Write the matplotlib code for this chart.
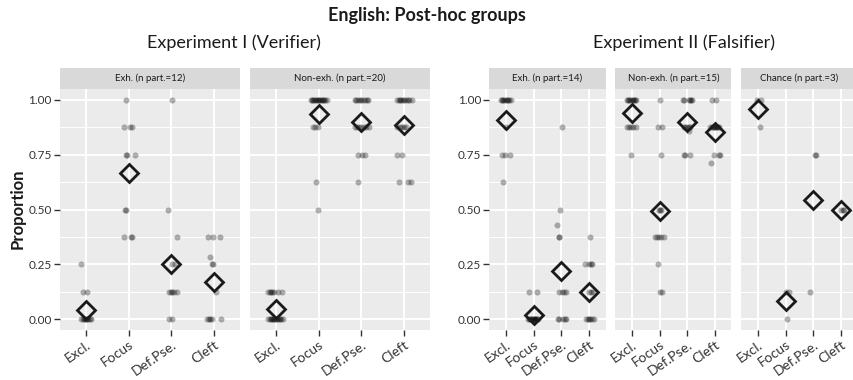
import matplotlib.pyplot as plt
import numpy as np

plt.rcParams['font.family'] = ['Lato', 'DejaVu Sans']

categories = ['Excl.', 'Focus', 'Def.Pse.', 'Cleft']
y_ticks = [0.0, 0.25, 0.5, 0.75, 1.0]
y_tick_labels = ['0.00', '0.25', '0.50', '0.75', '1.00']

# Experiment I, exhaustive group (12 participants): proportions and jitter
e1_exh_y = {
    'Excl.': [0.25, 0.125, 0.125] + [0.0] * 9,
    'Focus': [1.0, 0.875, 0.875, 0.875, 0.75, 0.75, 0.75, 0.5, 0.5, 0.375, 0.375, 0.375],
    'Def.Pse.': [1.0, 0.5, 0.375, 0.25, 0.25] + [0.125] * 5 + [0.0, 0.0],
    'Cleft': [0.375, 0.375, 0.375, 0.285, 0.25, 0.25, 0.125] + [0.0] * 5,
}
e1_exh_dx = {
    'Excl.': [-0.10, -0.06, 0.02, -0.10, -0.07, -0.04, -0.02, 0.0, 0.03, 0.06, 0.09, 0.13],
    'Focus': [-0.07, -0.11, 0.03, 0.09, -0.05, -0.03, 0.14, -0.09, -0.05, -0.10, 0.05, 0.09],
    'Def.Pse.': [0.02, -0.09, 0.13, 0.02, 0.09, -0.06, -0.02, 0.02, 0.07, 0.12, -0.06, 0.02],
    'Cleft': [-0.14, -0.02, 0.13, -0.09, -0.06, -0.04, 0.03, -0.16, -0.13, -0.09, -0.05, 0.15],
}

# Experiment I, non-exhaustive group (20 participants)
e1_nonexh_y = {
    'Excl.': [0.125] * 7 + [0.0] * 13,
    'Focus': [1.0] * 15 + [0.875] * 3 + [0.625, 0.5],
    'Def.Pse.': [1.0] * 9 + [0.875] * 7 + [0.75] * 3 + [0.625],
    'Cleft': [1.0] * 10 + [0.875] * 5 + [0.75] * 2 + [0.625] * 3,
}
e1_nonexh_dx = {
    'Excl.': [-0.17, -0.14, -0.11, -0.08, -0.03, 0.06, 0.15,
              -0.17, -0.14, -0.12, -0.09, -0.06, -0.04, -0.01, 0.02, 0.04, 0.07, 0.10, 0.13, 0.17],
    'Focus': [-0.18, -0.15, -0.12, -0.10, -0.07, -0.05, -0.02, 0.0, 0.02, 0.05, 0.07, 0.10, 0.13, 0.16, 0.20,
              -0.14, -0.08, -0.02, -0.05, -0.01],
    'Def.Pse.': [-0.15, -0.12, -0.08, -0.04, 0.0, 0.04, 0.08, 0.12, 0.16,
                 -0.15, -0.10, -0.05, 0.0, 0.05, 0.10, 0.18, -0.09, 0.01, 0.09, -0.09],
    'Cleft': [-0.17, -0.13, -0.10, -0.07, -0.03, 0.0, 0.04, 0.08, 0.12, 0.17,
              -0.16, -0.10, -0.05, 0.0, 0.04, -0.16, -0.05, -0.12, 0.09, 0.16],
}

# Experiment II, exhaustive group (14 participants)
e2_exh_y = {
    'Excl.': [1.0] * 9 + [0.875, 0.75, 0.75, 0.75, 0.625],
    'Focus': [0.125, 0.125] + [0.0] * 12,
    'Def.Pse.': [0.875, 0.5, 0.427, 0.375, 0.375] + [0.125] * 4 + [0.0] * 5,
    'Cleft': [0.375] + [0.25] * 4 + [0.125] * 3 + [0.0] * 6,
}
e2_exh_dx = {
    'Excl.': [-0.18, -0.14, -0.10, -0.06, -0.02, 0.02, 0.06, 0.10, 0.18, 0.0, -0.15, -0.03, 0.14, -0.10],
    'Focus': [-0.16, 0.12, -0.20, -0.16, -0.12, -0.09, -0.06, -0.03, 0.0, 0.03, 0.06, 0.09, 0.12, 0.15],
    'Def.Pse.': [0.02, -0.05, -0.15, -0.10, -0.07, -0.07, 0.03, 0.10, 0.17, -0.13, -0.10, 0.07, 0.14, 0.18],
    'Cleft': [0.04, -0.13, 0.01, 0.06, 0.10, -0.01, 0.08, 0.16, -0.11, -0.05, 0.0, 0.05, 0.12, 0.20],
}

# Experiment II, non-exhaustive group (15 participants)
e2_nonexh_y = {
    'Excl.': [1.0] * 9 + [0.875] * 5 + [0.75],
    'Focus': [1.0, 0.875, 0.875, 0.75, 0.5, 0.5, 0.5] + [0.375] * 5 + [0.25, 0.125, 0.125],
    'Def.Pse.': [1.0] * 6 + [0.875] * 5 + [0.858, 0.75, 0.75, 0.75],
    'Cleft': [1.0, 1.0] + [0.875] * 9 + [0.75, 0.75, 0.75, 0.714],
}
e2_nonexh_dx = {
    'Excl.': [-0.18, -0.14, -0.10, -0.06, -0.02, 0.02, 0.06, 0.10, 0.16, -0.17, -0.10, -0.03, 0.04, 0.13, -0.04],
    'Focus': [0.0, -0.06, 0.08, 0.06, -0.03, 0.02, 0.06, -0.18, -0.10, -0.04, 0.04, 0.14, -0.05, 0.01, 0.07],
    'Def.Pse.': [-0.17, -0.13, 0.05, 0.10, 0.13, 0.17, -0.13, -0.07, 0.0, 0.05, 0.10, 0.05, -0.13, -0.09, 0.11],
    'Cleft': [-0.11, 0.04, -0.17, -0.12, -0.08, -0.04, 0.0, 0.04, 0.08, 0.12, 0.16, -0.05, 0.13, 0.18, -0.13],
}

# Experiment II, chance group (3 participants)
e2_chance_y = {
    'Excl.': [1.0, 1.0, 0.875],
    'Focus': [0.125, 0.125, 0.0],
    'Def.Pse.': [0.75, 0.75, 0.125],
    'Cleft': [0.5, 0.5, 0.5],
}
e2_chance_dx = {
    'Excl.': [-0.03, 0.12, 0.06],
    'Focus': [0.0, 0.12, 0.06],
    'Def.Pse.': [0.07, 0.08, -0.11],
    'Cleft': [0.0, 0.07, 0.12],
}

W, H = 854, 380
PANEL_TOP, PANEL_BOTTOM, STRIP_TOP = 89, 330, 68


def draw_panel(fig, x0, width, strip_label, ys, dxs, show_y):
    rect = [x0 / W, 1 - PANEL_BOTTOM / H, width / W, (PANEL_BOTTOM - PANEL_TOP) / H]
    ax = fig.add_axes(rect)
    ax.set_facecolor('#EBEBEB')
    for i, cat in enumerate(categories):
        ax.scatter(i + np.array(dxs[cat]), ys[cat], s=19, color='black', alpha=0.3,
                   linewidths=0, zorder=3)
        ax.plot(i, np.mean(ys[cat]), marker='D', ms=9.5, mfc='none', mec='#1a1a1a',
                mew=2, zorder=4)
    ax.set_xlim(-0.6, 3.6)
    ax.set_ylim(-0.05, 1.05)
    ax.set_xticks(range(len(categories)))
    ax.set_xticklabels(categories, rotation=35, ha='right', rotation_mode='anchor',
                       fontsize=10, color='#333333')
    ax.set_yticks(y_ticks)
    ax.set_yticks([0.125, 0.375, 0.625, 0.875], minor=True)
    ax.grid(which='major', color='white', lw=1.4, zorder=0)
    ax.grid(which='minor', axis='y', color='white', lw=0.7, zorder=0)
    ax.set_axisbelow(True)
    for s in ax.spines.values():
        s.set_visible(False)
    ax.tick_params(which='major', length=4, width=1, color='#333333', pad=2)
    ax.tick_params(which='minor', length=0)
    if show_y:
        ax.set_yticklabels(y_tick_labels, fontsize=8.5, color='#333333')
    else:
        ax.tick_params(axis='y', which='major', length=0, labelleft=False)

    sax = fig.add_axes([x0 / W, 1 - PANEL_TOP / H, width / W, (PANEL_TOP - STRIP_TOP) / H])
    sax.set_facecolor('#D9D9D9')
    sax.set_xticks([])
    sax.set_yticks([])
    for s in sax.spines.values():
        s.set_visible(False)
    sax.text(0.5, 0.5, strip_label, ha='center', va='center', fontsize=7,
             color='#1a1a1a', transform=sax.transAxes)
    return ax


fig = plt.figure(figsize=(W / 100, H / 100), dpi=100)

draw_panel(fig, 60, 180, 'Exh. (n part.=12)', e1_exh_y, e1_exh_dx, True)
draw_panel(fig, 250, 180, 'Non-exh. (n part.=20)', e1_nonexh_y, e1_nonexh_dx, False)
draw_panel(fig, 489.5, 116, 'Exh. (n part.=14)', e2_exh_y, e2_exh_dx, True)
draw_panel(fig, 615.5, 116, 'Non-exh. (n part.=15)', e2_nonexh_y, e2_nonexh_dx, False)
draw_panel(fig, 741.5, 116, 'Chance (n part.=3)', e2_chance_y, e2_chance_dx, False)

fig.text(0.5, 1 - 15 / H, 'English: Post-hoc groups', ha='center', va='center',
         fontsize=13, fontweight='bold', color='#1a1a1a')
fig.text(234 / W, 1 - 43 / H, 'Experiment I (Verifier)', ha='center', va='center',
         fontsize=13, color='#1a1a1a')
fig.text(684 / W, 1 - 43 / H, 'Experiment II (Falsifier)', ha='center', va='center',
         fontsize=13, color='#1a1a1a')
fig.text(18 / W, 1 - 209 / H, 'Proportion', ha='center', va='center', rotation=90,
         fontsize=12, fontweight='bold', color='#1a1a1a')

fig.savefig('out.png', dpi=100)
